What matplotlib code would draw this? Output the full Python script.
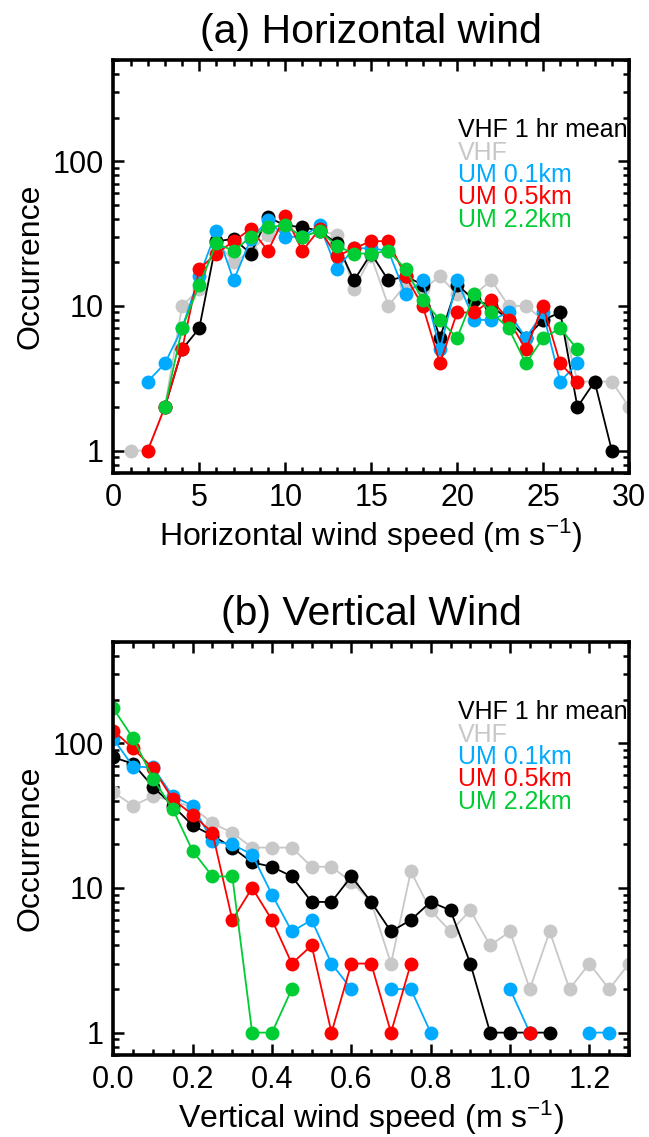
import numpy as np
import matplotlib
matplotlib.use("Agg")
import matplotlib.pyplot as plt
from matplotlib.ticker import FixedLocator, MultipleLocator, NullFormatter, FuncFormatter

plt.rcParams['font.family'] = ['Liberation Sans', 'DejaVu Sans']
plt.rcParams['mathtext.default'] = 'regular'

nan = np.nan

# ---- (a) horizontal wind, 1 m/s bins ----
h_speed = np.arange(0, 31)
h_vhf_mean = [nan, nan, nan, 2, 5, 7, 28, 29, 23, 41, 36, 35, 33, 27, 15, 23, 15, 16, 14, 6,
              14, 11, 10, 8, 6, 8, 9, 2, 3, 1, nan]
h_vhf = [nan, 1, 1, 2, 10, 13, 28, 20, 24, 31, 35, 30, 33, 31, 13, 22, 10, 14, 13, 16,
         12, 12, 15, 10, 10, 8, 9, 3, 3, 3, 2]
h_um01 = [nan, nan, 3, 4, 7, 16, 33, 15, 29, 39, 30, 30, 36, 18, 25, 25, 24, 12, 15, 5,
          15, 8, 8, 9, 6, 9, 3, 4, nan, nan, nan]
h_um05 = [nan, nan, 1, 2, 5, 18, 23, 28, 34, 24, 42, 24, 34, 22, 25, 28, 28, 16, 10, 4,
          9, 9, 11, 8, 5, 10, 4, 3, nan, nan, nan]
h_um22 = [nan, nan, nan, 2, 7, 14, 27, 24, 30, 35, 36, 30, 33, 26, 23, 23, 24, 18, 11, 8,
          6, 12, 9, 7, 4, 6, 7, 5, nan, nan, nan]

# ---- (b) vertical wind, 0.05 m/s bins ----
v_speed = np.linspace(0, 1.3, 27)
v_vhf_mean = [80, 72, 50, 37, 27, 23, 19, 15, 14, 12, 8, 8, 12, 8, 5, 6, 8, 7, 3, 1,
              1, 1, 1, nan, nan, nan, nan]
v_vhf = [46, 37, 43, 40, 36, 28, 24, 19, 19, 19, 14, 14, 11, 8, 3, 13, 7, 5, 7, 4,
         5, 2, 5, 2, 3, 2, 3]
v_um01 = [107, 69, 68, 43, 37, 21, 20, 17, 9, 5, 6, 3, 2, nan, 2, 2, 1, nan, nan, nan,
          2, 1, nan, nan, 1, 1, nan]
v_um05 = [122, 92, 67, 41, 32, 24, 6, 10, 6, 3, 4, 1, 3, 3, 1, 3, nan, nan, nan, nan,
          nan, 1, nan, nan, nan, nan, nan]
v_um22 = [174, 108, 57, 35, 18, 12, 12, 1, 1, 2, nan, nan, nan, nan, nan, nan, nan, nan, nan, nan,
          nan, nan, nan, nan, nan, nan, nan]

labels = ['VHF 1 hr mean', 'VHF', 'UM 0.1km', 'UM 0.5km', 'UM 2.2km']
colors = ['black', '#C8C8C8', '#00AAFF', '#FF0000', '#00CC33']
# drawing order: gray first, then the rest
order = [1, 0, 2, 3, 4]


def draw_panel(ax, x, series, title, xlabel, xlim, xmajor, xminor, xfmt):
    for i in order:
        ax.plot(x, series[i], '-o', color=colors[i], lw=1.3, ms=10, mew=0)

    ax.set_yscale('log')
    ax.set_ylim(0.7, 500)
    ax.set_xlim(*xlim)
    ax.yaxis.set_major_locator(FixedLocator([1, 10, 100]))
    ax.yaxis.set_major_formatter(FuncFormatter(lambda v, p: '%d' % v))
    minors = [m * 10.0 ** e for e in range(-1, 3) for m in range(2, 10)]
    ax.yaxis.set_minor_locator(FixedLocator(minors))
    ax.yaxis.set_minor_formatter(NullFormatter())
    ax.xaxis.set_major_locator(MultipleLocator(xmajor))
    ax.xaxis.set_minor_locator(MultipleLocator(xminor))
    ax.xaxis.set_major_formatter(FuncFormatter(lambda v, p: xfmt % v))

    ax.tick_params(which='both', direction='in', top=True, right=True, width=1.8, labelsize=22)
    ax.tick_params(which='major', length=8)
    ax.tick_params(which='minor', length=4)
    ax.tick_params(axis='x', pad=7)
    ax.tick_params(axis='y', pad=7)
    for s in ax.spines.values():
        s.set_linewidth(2.6)

    ax.set_title(title, fontsize=29.5, pad=12)
    ax.set_xlabel(xlabel, fontsize=23, labelpad=3)
    ax.set_ylabel('Occurrence', fontsize=23, labelpad=5)

    for j, (lab, c) in enumerate(zip(labels, colors)):
        ax.text(0.668, 0.813 - j * 0.0542, lab, color=c, fontsize=18,
                transform=ax.transAxes, va='baseline', ha='left')


fig = plt.figure(figsize=(6.49, 11.37), dpi=100)
ax1 = fig.add_axes([0.1746, 0.584, 0.7946, 0.3632])
ax2 = fig.add_axes([0.1746, 0.0721, 0.7946, 0.3632])

draw_panel(ax1, h_speed, [h_vhf_mean, h_vhf, h_um01, h_um05, h_um22],
           '(a) Horizontal wind', 'Horizontal wind speed (m s$^{-1}$)',
           (0, 30), 5, 1, '%d')
draw_panel(ax2, v_speed, [v_vhf_mean, v_vhf, v_um01, v_um05, v_um22],
           '(b) Vertical Wind', 'Vertical wind speed (m s$^{-1}$)',
           (0, 1.3), 0.2, 0.05, '%.1f')

fig.savefig('out.png', dpi=100)
